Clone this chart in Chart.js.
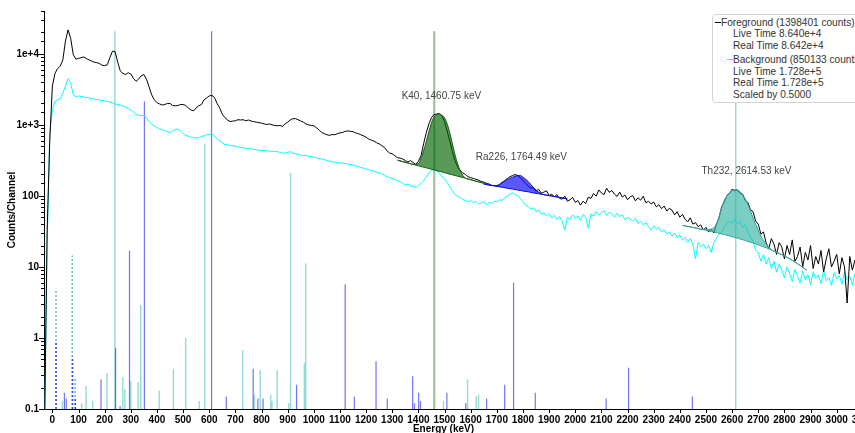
<!DOCTYPE html>
<html>
<head>
<meta charset="utf-8">
<script src="https://cdn.jsdelivr.net/npm/chart.js@4.4.1/dist/chart.umd.min.js"></script>
<style>
  html, body { margin: 0; padding: 0; background: #fff; overflow: hidden; width: 855px; height: 433px; }
  #wrap { position: relative; width: 900px; height: 445px; }
  #legend { position: absolute; left: 712px; top: 14px; width: 175px; height: 87px; background: #fff;
            border: 1px solid #d4d4d4; border-radius: 4px; font: 10.1px "Liberation Sans", Arial, sans-serif; color: #333; }
  #legend div { position: absolute; white-space: nowrap; line-height: 12px; }
  #legend .sw { height: 1px; width: 6px; }
</style>
</head>
<body>
<div id="wrap">
  <canvas id="c" width="900" height="445"></canvas>
  <div id="legend">
    <div class="sw" style="left:2px;top:7px;background:#000"></div>
    <div style="left:8px;top:1.5px">Foreground (1398401 counts)</div>
    <div style="left:20px;top:13px">Live Time 8.640e+4</div>
    <div style="left:20px;top:24.5px">Real Time 8.642e+4</div>
    <div class="sw" style="left:14px;top:44px;background:#00ffff"></div>
    <div style="left:20px;top:38.5px">Background (850133 counts)</div>
    <div style="left:20px;top:50.5px">Live Time 1.728e+5</div>
    <div style="left:20px;top:62px">Real Time 1.728e+5</div>
    <div style="left:20px;top:73.5px">Scaled by 0.5000</div>
  </div>
</div>
<script>
// Channel energies (keV) of the displayed spectra
const channelEnergy = [
  -30, -20, -10,
  0, 10, 20, 30, 40, 50, 60, 70, 80, 90,
  100, 110, 120, 130, 140, 150, 160, 170, 180, 190,
  200, 210, 220, 230, 240, 250, 260, 270, 280, 290,
  300, 310, 320, 330, 340, 350, 360, 370, 380, 390,
  400, 410, 420, 430, 440, 450, 460, 470, 480, 490,
  500, 510, 520, 530, 540, 550, 560, 570, 580, 590,
  600, 610, 620, 630, 640, 650, 660, 670, 680, 690,
  700, 710, 720, 730, 740, 750, 760, 770, 780, 790,
  800, 810, 820, 830, 840, 850, 860, 870, 880, 890,
  900, 910, 920, 930, 940, 950, 960, 970, 980, 990,
  1000, 1010, 1020, 1030, 1040, 1050, 1060, 1070, 1080, 1090,
  1100, 1110, 1120, 1130, 1140, 1150, 1160, 1170, 1180, 1190,
  1200, 1210, 1220, 1230, 1240, 1250, 1260, 1270, 1280, 1290,
  1300, 1310, 1320, 1330, 1340, 1350, 1360, 1370, 1380, 1390,
  1400, 1410, 1420, 1430, 1440, 1450, 1460, 1470, 1480, 1490,
  1500, 1510, 1520, 1530, 1540, 1550, 1560, 1570, 1580, 1590,
  1600, 1610, 1620, 1630, 1640, 1650, 1660, 1670, 1680, 1690,
  1700, 1710, 1720, 1730, 1740, 1750, 1760, 1770, 1780, 1790,
  1800, 1810, 1820, 1830, 1840, 1850, 1860, 1870, 1880, 1890,
  1900, 1910, 1920, 1930, 1940, 1950, 1960, 1970, 1980, 1990,
  2000, 2010, 2020, 2030, 2040, 2050, 2060, 2070, 2080, 2090,
  2100, 2110, 2120, 2130, 2140, 2150, 2160, 2170, 2180, 2190,
  2200, 2210, 2220, 2230, 2240, 2250, 2260, 2270, 2280, 2290,
  2300, 2310, 2320, 2330, 2340, 2350, 2360, 2370, 2380, 2390,
  2400, 2410, 2420, 2430, 2440, 2450, 2460, 2470, 2480, 2490,
  2500, 2510, 2520, 2530, 2540, 2550, 2560, 2570, 2580, 2590,
  2600, 2610, 2620, 2630, 2640, 2650, 2660, 2670, 2680, 2690,
  2700, 2710, 2720, 2730, 2740, 2750, 2760, 2770, 2780, 2790,
  2800, 2810, 2820, 2830, 2840, 2850, 2860, 2870, 2880, 2890,
  2900, 2910, 2920, 2930, 2940, 2950, 2960, 2970, 2980, 2990,
  3000, 3010, 3020, 3030, 3040, 3050, 3060, 3070, 3080, 3090,
  3100
];

// Foreground counts per channel
const foreground = [
  0.05, 32, 600,
  3520, 5300, 6200, 6700, 8200, 15100, 21700, 16500, 9700, 8400,
  8600, 8800, 9000, 8600, 8200, 7900, 7600, 7500, 7300, 6900,
  6800, 7000, 8800, 10900, 10700, 7600, 5700, 5300, 5100, 5400,
  5200, 4500, 4100, 4400, 4900, 5100, 4400, 3400, 2640, 2250,
  2050, 1970, 1900, 1930, 2000, 2000, 1870, 1850, 1870, 1930,
  1930, 1870, 1730, 1620, 1570, 1730, 1850, 1930, 2240, 2390,
  2550, 2600, 2430, 2000, 1730, 1410, 1260, 1170, 1110, 1130,
  1140, 1180, 1170, 1180, 1140, 1170, 1130, 1110, 1090, 1070,
  1060, 1030, 1010, 1030, 1000, 980, 970, 980, 950, 1030,
  1090, 1170, 1220, 1220, 1180, 1130, 1090, 1030, 1000, 980,
  970, 910, 850, 780, 750, 725, 710, 730, 725, 750,
  770, 780, 810, 820, 810, 800, 770, 750, 725, 700,
  670, 630, 610, 590, 560, 540, 510, 480, 430, 400,
  390, 367, 345, 340, 330, 313, 300, 313, 295, 278,
  305, 367, 540, 770, 1030, 1260, 1400, 1410, 1440, 1340,
  1110, 820, 597, 420, 313, 257, 226, 210, 200, 186,
  180, 176, 171, 166, 160, 156, 150, 147, 141, 140,
  139, 144, 154, 164, 175, 186, 193, 200, 193, 180,
  164, 150, 138, 128, 131, 116, 124, 109, 113, 118,
  101, 106, 97, 104, 92, 90, 99, 84, 88, 95,
  81, 86, 74, 84, 78, 96, 92, 108, 99, 121,
  110, 104, 128, 112, 119, 106, 98, 113, 96, 103,
  88, 97, 101, 85, 94, 87, 99, 80, 84, 77,
  82, 70, 75, 66, 72, 61, 67, 63, 54, 60,
  50, 55, 47, 43, 49, 40, 42, 37, 39, 33,
  36, 31, 34, 30, 40, 49, 70, 82, 101, 108,
  124, 118, 122, 108, 106, 86, 81, 64, 60, 44,
  40, 29, 31, 22, 18, 25, 21, 15, 22, 19,
  13, 20, 15, 24, 12, 14, 19, 10, 16, 12.5,
  20, 9.5, 14, 11, 17, 8.5, 13, 18, 10, 12,
  15, 8, 13.5, 10, 3.1, 14, 9, 12.5, 10, 7.5,
  12
];

// Background counts per channel (already scaled by 0.5)
const background = [
  0.05, 20, 760,
  1600, 2130, 2240, 2330, 2800, 3520, 4450, 3860, 2640, 2470,
  2550, 2500, 2470, 2420, 2390, 2350, 2300, 2260, 2240, 2200,
  2170, 2130, 2100, 2030, 1960, 1930, 1890, 1850, 1780, 1690,
  1620, 1510, 1410, 1360, 1340, 1360, 1260, 1110, 1010, 968,
  920, 870, 860, 824, 800, 780, 824, 860, 870, 824,
  750, 710, 690, 670, 660, 650, 660, 680, 700, 725,
  730, 750, 700, 630, 590, 560, 530, 525, 515, 507,
  500, 490, 480, 475, 470, 460, 460, 455, 445, 440,
  440, 432, 432, 425, 425, 420, 420, 410, 400, 400,
  410, 420, 400, 390, 385, 375, 367, 372, 360, 356,
  350, 345, 336, 330, 325, 313, 308, 303, 298, 293,
  290, 290, 285, 280, 275, 270, 266, 258, 250, 246,
  238, 234, 226, 222, 215, 212, 205, 196, 186, 180,
  175, 170, 164, 159, 150, 143, 147, 136, 138, 130,
  139, 149, 164, 186, 210, 230, 234, 226, 210, 186,
  175, 154, 135, 119, 104, 98, 95, 89, 86, 83,
  86, 80, 84, 77, 79, 83, 75, 81, 78, 84,
  82, 88, 86, 95, 99, 106, 110, 104, 102, 91,
  83, 74, 71, 65, 68, 60, 63, 55, 58, 52,
  56, 49, 53, 47, 51, 44, 33, 50, 46, 54,
  48, 52, 45, 55, 50, 35, 56, 52, 60, 54,
  58, 62, 53, 59, 56, 50, 57, 51, 54, 46,
  50, 47, 44, 48, 41, 44, 39, 42, 37, 33,
  38, 34, 36, 31, 33, 29, 31, 27, 30, 26,
  28, 24, 26, 22, 25, 21, 13, 22, 19, 21,
  18, 20, 16, 22, 25, 29, 31, 37, 40, 44,
  41, 47, 40, 44, 36, 39, 31, 26, 23, 17,
  16, 12, 15, 11, 13.5, 9.5, 12, 8.5, 11, 9,
  7, 10, 8, 6.2, 9.2, 7.4, 5.9, 8.8, 6.6, 7.8,
  5.6, 8.5, 6.9, 7.7, 5.8, 8.9, 6.4, 7.1, 5.5, 8.3,
  6.8, 7.6, 5.7, 8.6, 6.5, 7.3, 5.6, 8.0, 6.9, 6.1,
  7.8
];

// Fitted peaks: peak curve and its continuum
const k40Energy    = [1320, 1360, 1380, 1400, 1410, 1420, 1430, 1440, 1450, 1460, 1470, 1480, 1490, 1500, 1510, 1520, 1530, 1540, 1550, 1560, 1570, 1580, 1600, 1620, 1640, 1660];
const k40Peak      = [318, 290, 278, 284, 334, 432, 577, 798, 1067, 1295, 1404, 1426, 1359, 1253, 1033, 772, 541, 380, 284, 226, 193, 178, 169, 161, 154, 148];
const k40Continuum = [318, 290, 277, 265, 259, 253, 248, 242, 237, 232, 226, 221, 217, 212, 207, 202, 198, 193, 189, 185, 181, 177, 169, 161, 154, 148];

const ra226Energy    = [1650, 1680, 1700, 1720, 1740, 1760, 1780, 1790, 1800, 1820, 1840, 1860, 1880, 1900, 1920, 1940, 1970];
const ra226Peak      = [147, 140, 139.5, 154, 169, 183, 193, 193, 183, 159, 131, 113, 104, 101, 98, 95, 90.5];
const ra226Continuum = [147, 140, 136, 132, 128, 124.5, 120.6, 118.9, 117, 114, 110, 107, 104, 101, 98, 95, 90.5];

const th232Energy    = [2410, 2440, 2470, 2500, 2520, 2540, 2550, 2560, 2570, 2580, 2590, 2600, 2610, 2620, 2630, 2640, 2650, 2660, 2670, 2680, 2690, 2700, 2710, 2720, 2730, 2740, 2750, 2770, 2800, 2830, 2860, 2885];
const th232Peak      = [38.4, 36.6, 34.7, 33.5, 34, 40, 51, 68, 86, 100, 111, 119, 122, 121, 115, 104, 91, 76, 62, 49, 40, 32.6, 27, 23.6, 21, 19, 17.4, 16.1, 14.3, 12.4, 10.5, 9.0];
const th232Continuum = [38.4, 36.6, 34.7, 32.8, 31.6, 30.4, 29.8, 29.1, 28.5, 27.9, 27.3, 26.7, 26.0, 25.4, 24.8, 24.2, 23.6, 22.9, 22.3, 21.7, 21.1, 20.5, 19.8, 19.2, 18.6, 18.0, 17.4, 16.1, 14.3, 12.4, 10.5, 9.0];

// Peak annotations: text, label energy, peak height
const peakLabels   = ['K40, 1460.75 keV', 'Ra226, 1764.49 keV', 'Th232, 2614.53 keV'];
const peakLabelE   = [1488, 1794, 2655];
const peakLabelTop = [1426, 193, 122];

// Reference gamma lines (energy keV, drawn height)
const thLineE = [38, 112, 129, 154, 209, 239, 269, 277, 300, 328, 338, 409, 463, 510, 562, 583, 728, 772, 795, 835, 840, 860, 904, 911, 964, 969, 1496, 1588, 1621, 1630, 2614];
const thLineH = [0.13, 0.12, 0.21, 0.13, 0.32, 20800, 0.28, 0.19, 0.25, 0.24, 2.9, 0.18, 0.37, 1.0, 0.13, 540, 0.67, 0.16, 0.35, 0.16, 0.13, 0.35, 0.12, 212, 0.44, 11.2, 0.13, 0.26, 0.15, 0.16, 20800];
const raLineE = [46, 53, 186, 242, 259, 295, 352, 609, 665, 768, 786, 806, 934, 1120, 1155, 1238, 1281, 1378, 1385, 1401, 1408, 1509, 1581, 1661, 1730, 1764, 1847, 2118, 2204, 2448];
const raLineH = [0.17, 0.14, 0.26, 0.72, 0.11, 17, 2150, 20800, 0.15, 0.37, 0.14, 0.14, 0.22, 5.7, 0.15, 0.47, 0.14, 0.29, 0.12, 0.17, 0.13, 0.17, 0.12, 0.14, 0.22, 6.0, 0.17, 0.14, 0.38, 0.15];
const kLineE = [1460.75];
const kLineH = [20800];
// X-ray lines (dotted)
const thXrayE = [14, 76, 87];
const thXrayH = [4.9, 14.5, 0.28];
const raXrayE = [14, 77, 88];
const raXrayH = [0.9, 0.55, 0.14];

const FONT = '"Liberation Sans", Arial, sans-serif';
const pts = (xs, ys) => xs.map((x, i) => ({ x, y: ys[i] }));

const gammaLines = {
  id: 'gammaLines',
  beforeDatasetsDraw(chart) {
    const { ctx, chartArea: a, scales: { x, y } } = chart;
    const base = a.bottom;
    ctx.save();
    ctx.beginPath();
    ctx.rect(a.left, a.top, a.right - a.left, a.bottom - a.top);
    ctx.clip();
    const draw = (es, hs, color, width, dash) => {
      ctx.strokeStyle = color;
      ctx.lineWidth = width;
      ctx.setLineDash(dash);
      es.forEach((e, i) => {
        const px = x.getPixelForValue(e);
        ctx.beginPath();
        ctx.moveTo(px, base);
        ctx.lineTo(px, y.getPixelForValue(hs[i]));
        ctx.stroke();
      });
    };
    draw(thLineE, thLineH, 'rgba(70,192,178,0.55)', 1.5, []);
    draw(raLineE, raLineH, 'rgba(40,40,245,0.65)', 1.2, []);
    draw(kLineE, kLineH, 'rgba(90,160,90,0.65)', 2, []);
    draw(thXrayE, thXrayH, 'rgba(70,192,178,0.9)', 1.5, [2, 2]);
    draw(raXrayE, raXrayH, 'rgba(40,40,245,0.8)', 1.5, [2, 2]);
    ctx.restore();
  },
  afterDatasetsDraw(chart) {
    const { ctx, scales: { x, y } } = chart;
    ctx.save();
    ctx.font = '10px ' + FONT;
    ctx.fillStyle = '#444';
    ctx.textAlign = 'center';
    ctx.textBaseline = 'middle';
    peakLabels.forEach((t, i) => {
      ctx.fillText(t, x.getPixelForValue(peakLabelE[i]), y.getPixelForValue(peakLabelTop[i]) - 18);
    });
    ctx.restore();
  },
  afterDraw(chart) {
    const { ctx, chartArea: a, scales: { x, y } } = chart;
    ctx.save();
    ctx.strokeStyle = '#000';
    ctx.lineWidth = 1;
    ctx.beginPath();
    y.ticks.forEach(t => {
      const py = Math.round(y.getPixelForValue(t.value)) + 0.5;
      const l = Math.log10(t.value);
      const major = Math.abs(l - Math.round(l)) < 1e-6;
      ctx.moveTo(a.left - (major ? 5 : 3), py);
      ctx.lineTo(a.left, py);
    });
    x.ticks.forEach(t => {
      const px = Math.round(x.getPixelForValue(t.value)) + 0.5;
      ctx.moveTo(px, a.bottom);
      ctx.lineTo(px, a.bottom + 4);
    });
    ctx.stroke();
    ctx.fillStyle = '#000';
    ctx.font = 'bold 10px ' + FONT;
    ctx.textAlign = 'center';
    ctx.textBaseline = 'middle';
    ctx.fillText('Energy (keV)', a.left + 399.5, 429);
    ctx.translate(12, (a.top + a.bottom) / 2);
    ctx.rotate(-Math.PI / 2);
    ctx.fillText('Counts/Channel', 0, 0);
    ctx.restore();
  }
};

const peakStyle = (color, fillColor) => ({
  borderColor: color, borderWidth: 1, backgroundColor: fillColor,
  pointRadius: 0, cubicInterpolationMode: 'monotone'
});

new Chart(document.getElementById('c'), {
  type: 'line',
  data: {
    datasets: [
      { label: 'K40', data: pts(k40Energy, k40Peak), fill: '+1', ...peakStyle('#1d5c1d', 'rgba(0,100,0,0.65)') },
      { label: 'K40 continuum', data: pts(k40Energy, k40Continuum), fill: false, ...peakStyle('#1d5c1d', 'transparent') },
      { label: 'Ra226', data: pts(ra226Energy, ra226Peak), fill: '+1', ...peakStyle('#1010d0', 'rgba(0,0,255,0.65)') },
      { label: 'Ra226 continuum', data: pts(ra226Energy, ra226Continuum), fill: false, ...peakStyle('#1010d0', 'transparent') },
      { label: 'Th232', data: pts(th232Energy, th232Peak), fill: '+1', ...peakStyle('#3c9d92', 'rgba(50,180,165,0.65)') },
      { label: 'Th232 continuum', data: pts(th232Energy, th232Continuum), fill: false, ...peakStyle('#3c9d92', 'transparent') },
      { label: 'Foreground', data: pts(channelEnergy, foreground), borderColor: '#000', borderWidth: 1,
        pointRadius: 0, fill: false },
      { label: 'Background', data: pts(channelEnergy, background), borderColor: '#00ffff', borderWidth: 1,
        pointRadius: 0, fill: false }
    ]
  },
  options: {
    responsive: false,
    animation: false,
    devicePixelRatio: 1,
    layout: { padding: { top: 10, right: 26.7, left: 0, bottom: 0 } },
    plugins: {
      legend: { display: false },
      tooltip: { enabled: false },
      filler: { drawTime: 'beforeDatasetDraw' }
    },
    scales: {
      x: {
        type: 'linear', min: -32, max: 3140,
        afterFit(s) { s.height = 36; },
        grid: { display: false, drawTicks: false },
        border: { display: true, color: '#000', width: 1 },
        ticks: { stepSize: 100, includeBounds: false, autoSkip: false, maxRotation: 0, padding: 5,
                 color: '#000', font: { family: FONT, size: 10, weight: 'bold' },
                 callback: v => String(v) }
      },
      y: {
        type: 'logarithmic', min: 0.1, max: 40000,
        afterFit(s) { s.width = 44; },
        grid: { display: false, drawTicks: false },
        border: { display: true, color: '#000', width: 1 },
        ticks: { autoSkip: false, padding: 5, color: '#000', font: { family: FONT, size: 10, weight: 'bold' },
                 callback: v => {
                   const l = Math.log10(v), r = Math.round(l);
                   if (Math.abs(l - r) > 1e-6) return '';
                   return r >= 3 ? '1e+' + r : String(v);
                 } }
      }
    }
  },
  plugins: [gammaLines]
});
</script>
</body>
</html>
